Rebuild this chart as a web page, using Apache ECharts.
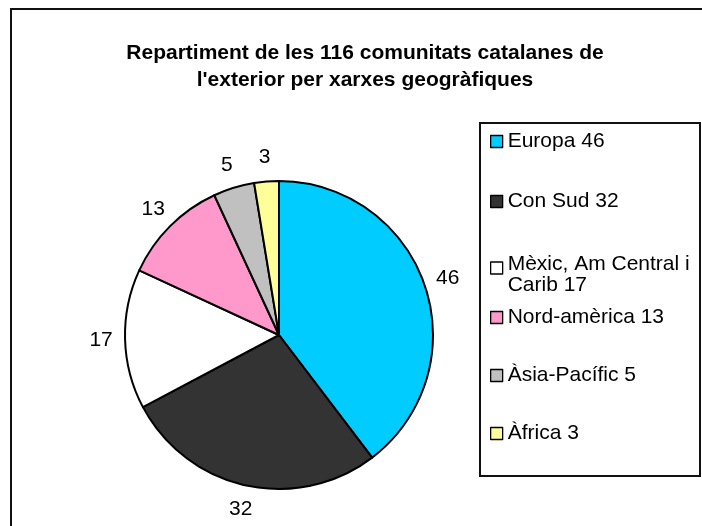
<!DOCTYPE html>
<html>
<head>
<meta charset="utf-8">
<script src="https://cdn.jsdelivr.net/npm/echarts@6/dist/echarts.min.js"></script>
<style>
html,body{margin:0;padding:0;background:#fff;}
#chart{width:702px;height:526px;}
</style>
</head>
<body>
<div id="chart"></div>
<script>
var categories = ["Europa", "Con Sud", "Mèxic, Am Central i Carib", "Nord-amèrica", "Àsia-Pacífic", "Àfrica"];
var values = [46, 32, 17, 13, 5, 3];
var legendLabels = ["Europa 46", "Con Sud 32", "Mèxic, Am Central i\nCarib 17", "Nord-amèrica 13", "Àsia-Pacífic 5", "Àfrica 3"];
var colors = ["#00CCFF", "#333333", "#FFFFFF", "#FF99CC", "#C0C0C0", "#FFFF99"];
var titleText = "Repartiment de les 116 comunitats catalanes de\nl'exterior per xarxes geogràfiques";

var FONT = "Liberation Sans, Arial, sans-serif";
var chart = echarts.init(document.getElementById('chart'), null, {renderer: 'canvas'});

var pieData = categories.map(function (c, i) {
  return {name: c, value: values[i], itemStyle: {color: colors[i]}};
});
var ghostData = categories.map(function (c, i) {
  return {name: c, value: values[i]};
});

var legendTops = [131, 191, 254, 307, 365, 423];
var legends = categories.map(function (c, i) {
  var twoLine = legendLabels[i].indexOf('\n') >= 0;
  return {
    orient: 'vertical',
    left: 490,
    top: legendTops[i],
    padding: 0,
    data: [c],
    selectedMode: false,
    itemWidth: 12,
    itemHeight: twoLine ? 26 : 12,
    itemGap: 0,
    icon: twoLine ? 'path://M0,0h12v12h-12z M0,26' : 'rect',
    itemStyle: {borderColor: '#000', borderWidth: 1.3},
    formatter: function (name) { return legendLabels[categories.indexOf(name)]; },
    textStyle: {fontFamily: FONT, fontSize: 21, color: '#000', lineHeight: 21}
  };
});

chart.setOption({
  animation: false,
  backgroundColor: '#fff',
  title: {
    text: titleText,
    left: 365,
    top: 40,
    padding: 0,
    textAlign: 'center',
    textStyle: {fontFamily: FONT, fontSize: 21, fontWeight: 'bold', color: '#000', lineHeight: 27, align: 'center'}
  },
  legend: legends,
  graphic: [
    {type: 'rect', shape: {x: 11, y: 9, width: 720, height: 560}, style: {fill: 'none', stroke: '#111', lineWidth: 2}, z: 100, silent: true},
    {type: 'rect', shape: {x: 480, y: 123, width: 220, height: 353}, style: {fill: 'none', stroke: '#111', lineWidth: 2}, z: 100, silent: true}
  ],
  series: [
    {
      type: 'pie',
      center: [279, 335],
      radius: [0, 154],
      startAngle: 90,
      clockwise: true,
      data: pieData,
      label: {show: false},
      labelLine: {show: false},
      itemStyle: {borderColor: '#000', borderWidth: 2},
      emphasis: {disabled: true},
      z: 2
    },
    {
      type: 'pie',
      center: [279, 335],
      radius: [166, 184],
      startAngle: 90,
      clockwise: true,
      silent: true,
      data: ghostData,
      itemStyle: {color: 'rgba(0,0,0,0)', borderWidth: 0},
      label: {show: true, position: 'inside', formatter: '{c}', fontFamily: FONT, fontSize: 21, color: '#000'},
      labelLine: {show: false},
      emphasis: {disabled: true},
      z: 1
    }
  ]
});
</script>
</body>
</html>
